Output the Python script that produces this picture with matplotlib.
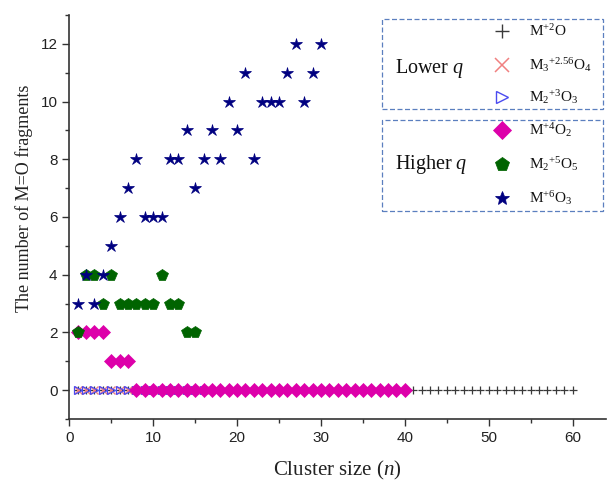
import numpy as np
import matplotlib
matplotlib.use("Agg")
import matplotlib.pyplot as plt
from matplotlib.patches import Rectangle
from matplotlib.lines import Line2D

# ---- data: number of M=O fragments vs cluster size n ----
n_m2o = list(range(1, 61))
y_m2o = [0] * 60

n_m3o4 = list(range(1, 17))
y_m3o4 = [0] * 16

n_m2o3 = list(range(1, 17))
y_m2o3 = [0] * 16

n_mo2 = list(range(1, 41))
y_mo2 = [2, 2, 2, 2, 1, 1, 1] + [0] * 33

n_m2o5 = list(range(1, 16))
y_m2o5 = [2, 4, 4, 3, 4, 3, 3, 3, 3, 3, 4, 3, 3, 2, 2]

n_mo3 = list(range(1, 31))
y_mo3 = [3, 4, 3, 4, 5, 6, 7, 8, 6, 6, 6, 8, 8, 9, 7,
         8, 9, 8, 10, 9, 11, 8, 10, 10, 10, 11, 12, 10, 11, 12]

x_ticks = [0, 10, 20, 30, 40, 50, 60]
y_ticks = [0, 2, 4, 6, 8, 10, 12]

# ---- styles (ms: plot marker size, lms: legend marker size) ----
series = [
    dict(x=n_m2o, y=y_m2o, marker="+", color="#3a3a3a", ms=6.3, lms=9.5, mew=0.9,
         mfc="none", label=r"M$^{+2}$O"),
    dict(x=n_m3o4, y=y_m3o4, marker="x", color="#f08080", ms=5.5, lms=10, mew=1.0,
         mfc="none", label=r"M$_3$$^{+2.56}$O$_4$"),
    dict(x=n_m2o3, y=y_m2o3, marker=">", color="#4a4af0", ms=6, lms=8.5, mew=0.9,
         mfc="none", label=r"M$_2$$^{+3}$O$_3$"),
    dict(x=n_mo2, y=y_mo2, marker="D", color="#dd00aa", ms=6.8, lms=9.0, mew=0.5,
         mfc="#dd00aa", label=r"M$^{+4}$O$_2$"),
    dict(x=n_m2o5, y=y_m2o5, marker="p", color="#006400", ms=8.4, lms=10.5, mew=0.5,
         mfc="#006400", label=r"M$_2$$^{+5}$O$_5$"),
    dict(x=n_mo3, y=y_mo3, marker="*", color="#000080", ms=9.0, lms=10, mew=0.5,
         mfc="#000080", label=r"M$^{+6}$O$_3$"),
]

plt.rcParams["mathtext.fontset"] = "custom"
plt.rcParams["mathtext.rm"] = "Liberation Serif"
plt.rcParams["mathtext.it"] = "Liberation Serif:italic"

fig = plt.figure(figsize=(6.08, 4.83), dpi=100)
ax = fig.add_axes([0.114, 0.1325, 0.883, 0.8365])

for s in series:
    ax.plot(s["x"], s["y"], linestyle="none", marker=s["marker"], color=s["color"],
            markersize=s["ms"], markeredgewidth=s["mew"], markerfacecolor=s["mfc"],
            clip_on=False)

ax.set_xlim(0, 64)
ax.set_ylim(-1, 13)
ax.set_xticks(x_ticks)
ax.set_yticks(y_ticks)
ax.set_xticks(np.arange(5, 64, 10), minor=True)
ax.set_yticks(np.arange(-1, 13.5, 2), minor=True)

for side in ("top", "right"):
    ax.spines[side].set_visible(False)
for side in ("left", "bottom"):
    ax.spines[side].set_color("#333333")
    ax.spines[side].set_linewidth(1.2)

ax.tick_params(which="major", direction="out", length=5, width=1.0, color="#333333",
               labelsize=11, labelcolor="#222222")
ax.tick_params(which="minor", direction="out", length=3, width=1.0, color="#333333")
for lab in ax.get_xticklabels() + ax.get_yticklabels():
    lab.set_fontfamily("Liberation Sans")

ax.set_xlabel(r"Cluster size ($n$)", fontsize=15, fontfamily="Liberation Serif",
              color="#222222", labelpad=10.5)
ax.set_ylabel("The number of M=O fragments", fontsize=13, fontfamily="Liberation Serif",
              color="#222222")
ax.yaxis.set_label_coords(-0.068, 0.547)

# ---- grouped legend drawn in figure coordinates ----
W, H = 608.0, 483.0
box_col = "#5b7fbf"


def fx(px):
    return px / W


def fy(py):
    return 1 - py / H


boxes = [
    ("Lower $q$", (382, 19, 603, 109), series[:3], [31, 65, 97], 68),
    ("Higher $q$", (382, 120, 603, 211), series[3:], [130, 164, 198], 165),
]
for title, (x0, y0, x1, y1), items, rows, ty in boxes:
    fig.add_artist(Rectangle((fx(x0), fy(y1)), fx(x1) - fx(x0), fy(y0) - fy(y1),
                             transform=fig.transFigure, fill=False,
                             edgecolor=box_col, linestyle=(0, (4, 2)), linewidth=0.9))
    fig.text(fx(395), fy(ty), title, fontsize=14.5, fontfamily="Liberation Serif",
             va="center", ha="left", color="#111111")
    for s, ry in zip(items, rows):
        fig.add_artist(Line2D([fx(502)], [fy(ry)], transform=fig.transFigure,
                              linestyle="none", marker=s["marker"], color=s["color"],
                              markersize=s["lms"], markeredgewidth=s["mew"] * 1.1,
                              markerfacecolor=s["mfc"]))
        fig.text(fx(529), fy(ry), s["label"], fontsize=11, fontfamily="Liberation Serif",
                 va="center", ha="left", color="#111111")

fig.savefig("out.png", dpi=100)
